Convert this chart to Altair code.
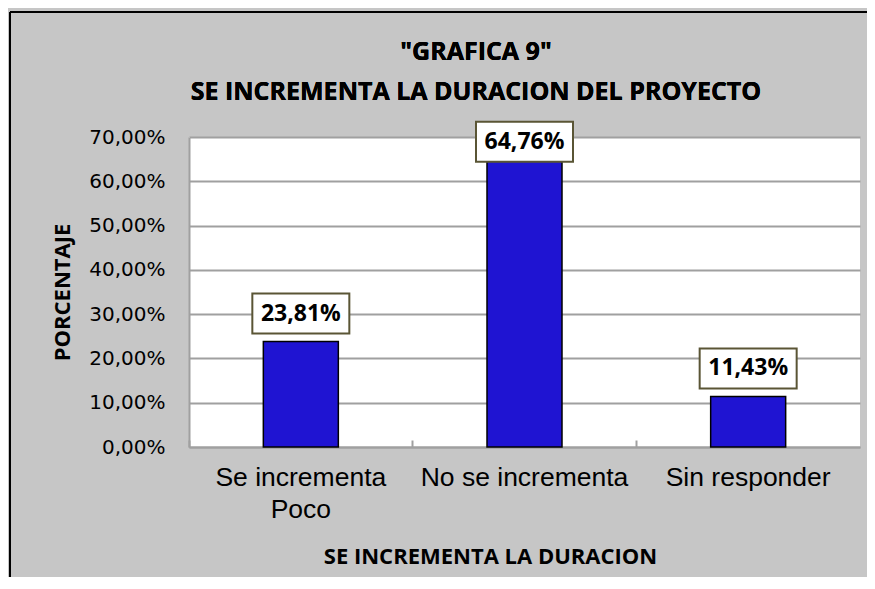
import altair as alt
import pandas as pd

title_lines = ['"GRAFICA 9"', "SE INCREMENTA LA DURACION DEL PROYECTO"]
categories = ["Se incrementa Poco", "No se incrementa", "Sin responder"]
values = [23.81, 64.76, 11.43]
y_ticks = [0, 10, 20, 30, 40, 50, 60, 70]

df = pd.DataFrame({"cat": categories, "val": values})

W, H = 671, 310
px_per_unit = H / 70.0

base = alt.Chart(df).transform_calculate(
    lab_y=f"min(datum.val + {28/px_per_unit}, 68.9)",
    lab_lo=f"min(datum.val + {28/px_per_unit}, 68.9) - {20/px_per_unit}",
    lab_hi=f"min(datum.val + {28/px_per_unit}, 68.9) + {20/px_per_unit}",
    lab_txt="replace(format(datum.val, '.2f'), '.', ',') + '%'",
)

x_enc = alt.X(
    "cat:N",
    sort=categories,
    scale=alt.Scale(paddingInner=0, paddingOuter=0),
    axis=alt.Axis(
        orient="bottom",
        title="SE INCREMENTA LA DURACION",
        titleFont="Open Sans", titleFontWeight="bold", titleFontSize=22,
        titleColor="#000000",
        titleX=301, titleY=109, titleBaseline="middle", titleAlign="center",
        labelAngle=0, labelFont="Liberation Sans", labelFontSize=26.5,
        labelColor="#000000", labelBaseline="top", labelPadding=17,
        labelLineHeight=32, labelLimit=400,
        labelExpr="datum.value == 'Se incrementa Poco' ? ['Se incrementa', 'Poco'] : datum.value",
        ticks=False, domainColor="#a0a0a0", domainWidth=2,
    ),
)

y_scale = alt.Scale(domain=[0, 70], nice=False, zero=True)
y_axis = alt.Axis(
    title="PORCENTAJE",
    titleFont="Open Sans", titleFontWeight="bold", titleFontSize=22,
    titleColor="#000000", titleAngle=270,
    titleX=-127, titleY=155, titleBaseline="middle", titleAlign="center",
    values=y_ticks,
    labelExpr="replace(format(datum.value, '.2f'), '.', ',') + '%'",
    labelFont="DejaVu Sans", labelFontSize=20, labelColor="#000000",
    labelPadding=24, ticks=False,
    domainColor="#a0a0a0", domainWidth=2,
    gridColor="#a0a0a0", gridWidth=2,
)

bars = base.mark_bar(
    size=75, color="#1f14d2", stroke="#000000", strokeWidth=1.5
).encode(x=x_enc, y=alt.Y("val:Q", scale=y_scale, axis=y_axis))

boxes = base.mark_bar(size=97, fill="#ffffff", stroke="#5a5535", strokeWidth=2).encode(
    x=alt.X(
        "cat:N", sort=categories,
        axis=alt.Axis(
            orient="bottom", offset=-7, title=None, labels=False, domain=False,
            grid=False, ticks=True, tickSize=7, tickColor="#a0a0a0", tickWidth=2,
            bandPosition=0,
        ),
    ),
    y=alt.Y("lab_lo:Q", scale=y_scale, axis=y_axis),
    y2="lab_hi:Q",
)

texts = base.mark_text(
    font="Open Sans", fontWeight="bold", fontSize=23, color="#000000",
    baseline="middle", align="center",
).encode(
    x=alt.X("cat:N", sort=categories, axis=None),
    y=alt.Y("lab_y:Q", scale=y_scale, axis=y_axis),
    text="lab_txt:N",
)

title1 = alt.Chart(df).mark_text(
    font="Open Sans", fontWeight="bold", fontSize=25, color="#000000",
    align="center", baseline="middle",
).encode(x=alt.value(287), y=alt.value(-85), text=alt.value(title_lines[0]))
title2 = alt.Chart(df).mark_text(
    font="Open Sans", fontWeight="bold", fontSize=25, color="#000000",
    align="center", baseline="middle",
).encode(x=alt.value(287), y=alt.value(-45), text=alt.value(title_lines[1]))

frame_top = alt.Chart(df).mark_rule(color="#000000", strokeWidth=2).encode(
    x=alt.value(-179), x2=alt.value(700), y=alt.value(-125)
)
frame_left = alt.Chart(df).mark_rule(color="#000000", strokeWidth=2).encode(
    x=alt.value(-179), y=alt.value(-125), y2=alt.value(440)
)

chart = alt.layer(bars, boxes, texts, title1, title2, frame_top, frame_left).resolve_axis(
    x="independent"
).properties(
    width=W, height=H,
    autosize=alt.AutoSizeParams(type="none"),
    padding={"left": 181, "top": 129, "right": 7, "bottom": 130},
    background="#c6c6c6",
).configure_view(fill="#ffffff", stroke=None)

chart.save("out.html", embed_options={"renderer": "svg", "actions": False})
